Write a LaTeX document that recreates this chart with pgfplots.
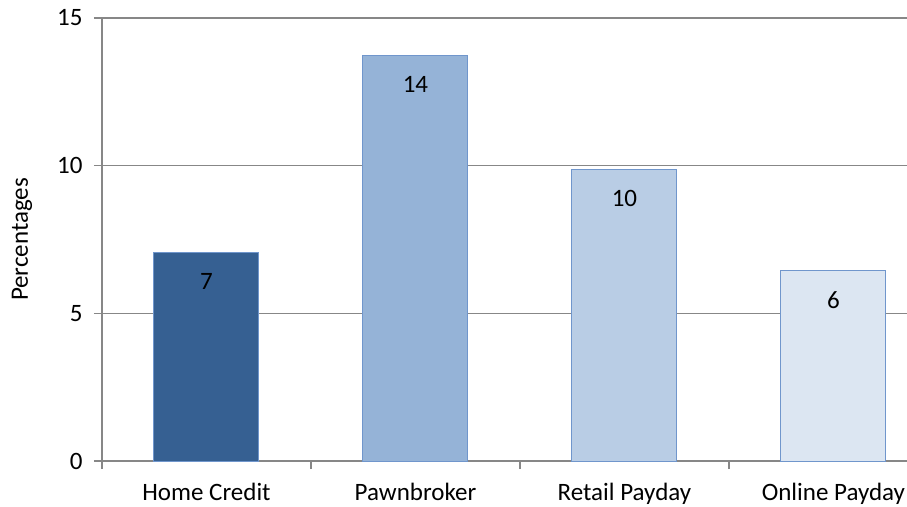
\documentclass[border=0pt]{standalone}
\usepackage{pgfplots}
\pgfplotsset{compat=1.18}
\usepackage{fontspec}
\setmainfont{Carlito}
\definecolor{gridgray}{HTML}{878787}
\definecolor{edgeblue}{HTML}{7096CC}
\definecolor{c1}{HTML}{366092}
\definecolor{c2}{HTML}{95B3D7}
\definecolor{c3}{HTML}{B9CDE5}
\definecolor{c4}{HTML}{DCE6F2}
\begin{document}
\begin{tikzpicture}
\begin{axis}[
  name=ax,
  scale only axis,
  width=805pt, height=443pt,
  xmin=-0.5, xmax=3.352,
  ymin=0, ymax=15,
  ytick={0,5,10,15},
  xtick={-0.5,0.5,1.5,2.5},
  xticklabels={},
  extra x ticks={0,1,2,3},
  extra x tick labels={Home Credit,Pawnbroker,Retail Payday,Online Payday},
  extra x tick style={major tick length=0pt, grid=none},
  axis x line=bottom, axis y line=left,
  axis line style={draw=gridgray, line width=1.2pt, -},
  tick style={draw=gridgray, line width=1.2pt},
  major tick length=8pt,
  tick align=outside,
  ymajorgrids,
  grid style={draw=gridgray, line width=1.1pt},
  font=\fontsize{25}{30}\selectfont,
  /pgf/number format/assume math mode=true,
  xticklabel style={yshift=-19pt},
  yticklabel style={xshift=-8pt},
  ylabel={Percentages},
  ylabel style={at={(axis description cs:-0.0994,0.5)}, anchor=center},
  ybar, bar width=105pt, bar shift=0pt,
  nodes near coords,
  point meta=explicit symbolic,
  every node near coord/.append style={anchor=north, yshift=-17pt, font=\fontsize{25}{30}\selectfont, text=black},
]
\addplot[fill=c1, draw=edgeblue, line width=1pt] coordinates {(0,7.05)[7]};
\addplot[fill=c2, draw=edgeblue, line width=1pt] coordinates {(1,13.72)[14]};
\addplot[fill=c3, draw=edgeblue, line width=1pt] coordinates {(2,9.88)[10]};
\addplot[fill=c4, draw=edgeblue, line width=1pt] coordinates {(3,6.45)[6]};
\end{axis}
\pgfresetboundingbox
\path ([shift={(-102pt,-45pt)}]ax.south west) rectangle ([shift={(805pt,18pt)}]ax.north west);
\end{tikzpicture}
\end{document}
